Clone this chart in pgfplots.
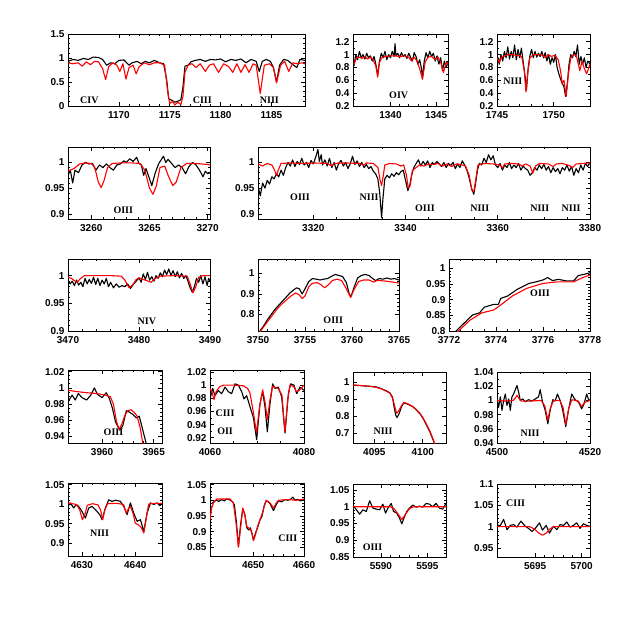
\documentclass[border=0pt]{standalone}
\usepackage{fontspec}
\setmainfont{Liberation Serif}
\newfontfamily\sfnum{Liberation Sans}
\usepackage{pgfplots}
\pgfplotsset{compat=1.18}
\pgfplotsset{
  pan/.style={scale only axis, anchor=north west, clip=true,
    axis line style={line width=0.9pt},
    tick align=inside,
    major tick length=4pt, minor tick length=2pt,
    every tick/.append style={line width=0.6pt, black},
    tick label style={font=\fontsize{10}{12}\selectfont\sfnum\bfseries},
    xticklabel style={yshift=-2pt},
    /pgf/number format/1000 sep={},
    /pgf/number format/assume math mode=true,
    scaled ticks=false},
}
\tikzset{
  obs/.style={black, line width=1.1pt, line join=round},
  mod/.style={red, line width=1.1pt, line join=round},
  lbl/.style={font=\fontsize{10}{12}\selectfont\bfseries, inner sep=0pt},
}
\begin{document}
\begin{tikzpicture}
\path[use as bounding box] (0pt,0pt) rectangle (623pt,-623pt);

% ---------- row 1 ----------
\begin{axis}[pan, at={(68pt,-34pt)}, width=237pt, height=72pt,
  xmin=1165, xmax=1188.3, ymin=0, ymax=1.5,
  xtick={1170,1175,1180,1185}, ytick={0,0.5,1,1.5},
  minor x tick num=4, minor y tick num=4]
\addplot[obs] coordinates {(1165.0,0.93)(1165.5,0.97)(1166.0,0.95)(1166.5,0.99)(1167.0,0.97)(1167.5,1.02)(1168.0,1.01)(1168.4,0.97)(1168.8,0.85)(1169.2,0.90)(1169.6,0.88)(1170.0,0.95)(1170.5,0.96)(1171.0,0.85)(1171.3,0.90)(1171.8,0.93)(1172.2,0.88)(1172.6,0.93)(1173.0,0.90)(1173.5,0.95)(1174.0,0.90)(1174.4,0.88)(1174.7,0.55)(1174.9,0.15)(1175.2,0.12)(1175.5,0.08)(1175.8,0.10)(1176.1,0.13)(1176.3,0.40)(1176.5,0.83)(1176.8,0.85)(1177.1,0.92)(1177.5,0.95)(1178.0,0.97)(1178.5,0.93)(1179.0,0.97)(1179.5,0.96)(1180.0,0.98)(1180.5,0.92)(1181.0,0.97)(1181.5,0.95)(1182.0,0.98)(1182.5,0.90)(1183.0,0.97)(1183.5,0.93)(1183.8,0.72)(1184.1,0.93)(1184.5,0.97)(1184.9,0.93)(1185.2,0.80)(1185.5,0.50)(1185.8,0.85)(1186.2,0.97)(1186.6,0.95)(1187.0,0.88)(1187.5,0.80)(1187.8,0.97)(1188.3,0.95)};
\addplot[mod] coordinates {(1165.0,0.90)(1165.5,0.88)(1166.0,0.90)(1166.4,0.83)(1166.8,0.92)(1167.2,0.86)(1167.6,0.93)(1168.0,0.92)(1168.4,0.78)(1168.7,0.55)(1169.0,0.82)(1169.4,0.90)(1169.8,0.85)(1170.1,0.72)(1170.4,0.88)(1170.7,0.56)(1171.0,0.80)(1171.4,0.85)(1171.7,0.67)(1172.0,0.82)(1172.5,0.90)(1173.0,0.86)(1173.5,0.90)(1174.0,0.90)(1174.5,0.85)(1174.8,0.30)(1175.0,0.05)(1175.3,0.10)(1175.5,0.02)(1175.8,0.08)(1176.1,0.03)(1176.3,0.20)(1176.5,0.70)(1176.8,0.85)(1177.2,0.88)(1177.6,0.80)(1178.0,0.88)(1178.5,0.72)(1178.9,0.85)(1179.3,0.88)(1179.8,0.70)(1180.3,0.88)(1180.8,0.82)(1181.2,0.70)(1181.6,0.88)(1182.0,0.70)(1182.4,0.86)(1182.8,0.70)(1183.2,0.88)(1183.5,0.85)(1183.9,0.26)(1184.3,0.85)(1184.8,0.88)(1185.2,0.80)(1185.5,0.48)(1185.9,0.85)(1186.3,0.93)(1186.7,0.72)(1187.1,0.90)(1187.5,0.88)(1188.0,0.90)(1188.3,0.88)};
\node[lbl] at (axis cs:1167.1,0.125) {CIV};
\node[lbl] at (axis cs:1178.2,0.125) {CIII};
\node[lbl] at (axis cs:1184.8,0.125) {NIII};
\end{axis}

\begin{axis}[pan, at={(353pt,-34pt)}, width=95pt, height=72pt,
  xmin=1335.9, xmax=1346.3, ymin=0.2, ymax=1.32,
  xtick={1340,1345}, ytick={0.2,0.4,0.6,0.8,1,1.2},
  minor x tick num=4, minor y tick num=1]
\addplot[obs] coordinates {(1336.0,0.82)(1336.2,1.00)(1336.4,0.92)(1336.6,1.05)(1336.8,0.95)(1337.0,1.00)(1337.2,0.93)(1337.4,1.02)(1337.6,0.95)(1337.8,0.98)(1338.0,0.90)(1338.2,0.97)(1338.4,0.85)(1338.6,0.68)(1338.8,0.90)(1339.0,1.02)(1339.2,0.95)(1339.4,1.05)(1339.6,0.92)(1339.8,1.00)(1340.0,0.95)(1340.2,1.05)(1340.4,0.97)(1340.5,1.17)(1340.6,0.98)(1340.8,1.02)(1341.0,0.95)(1341.2,1.03)(1341.4,0.97)(1341.6,1.00)(1341.8,0.94)(1342.0,1.02)(1342.2,0.96)(1342.4,0.90)(1342.6,1.03)(1342.8,0.97)(1343.0,0.85)(1343.2,0.92)(1343.4,0.78)(1343.5,0.62)(1343.7,0.90)(1343.9,1.03)(1344.1,0.95)(1344.3,1.05)(1344.5,0.97)(1344.7,1.02)(1344.9,0.90)(1345.1,0.98)(1345.3,0.85)(1345.5,0.95)(1345.7,0.75)(1345.9,0.90)(1346.1,0.80)(1346.3,0.88)};
\addplot[mod] coordinates {(1336.0,0.85)(1336.3,0.95)(1336.6,0.96)(1336.9,0.94)(1337.2,0.97)(1337.5,0.93)(1337.8,0.96)(1338.1,0.92)(1338.4,0.82)(1338.6,0.65)(1338.8,0.88)(1339.1,0.96)(1339.5,0.97)(1340.0,0.98)(1340.5,0.98)(1341.0,0.97)(1341.5,0.98)(1342.0,0.96)(1342.3,0.90)(1342.6,0.96)(1342.9,0.90)(1343.2,0.78)(1343.5,0.62)(1343.8,0.88)(1344.1,0.96)(1344.5,0.97)(1344.9,0.92)(1345.2,0.96)(1345.5,0.88)(1345.8,0.72)(1346.1,0.88)(1346.3,0.85)};
\node[lbl] at (axis cs:1340.9,0.37) {OIV};
\end{axis}

\begin{axis}[pan, at={(497pt,-34pt)}, width=93pt, height=72pt,
  xmin=1745, xmax=1753.2, ymin=0.2, ymax=1.32,
  xtick={1745,1750}, ytick={0.2,0.4,0.6,0.8,1,1.2},
  minor x tick num=4, minor y tick num=1]
\addplot[obs] coordinates {(1745.0,0.82)(1745.1,0.95)(1745.2,0.85)(1745.35,1.00)(1745.5,0.90)(1745.65,1.05)(1745.8,0.95)(1745.95,1.12)(1746.1,0.93)(1746.25,1.05)(1746.4,0.95)(1746.55,1.15)(1746.7,0.92)(1746.85,1.08)(1747.0,0.95)(1747.15,1.10)(1747.3,0.90)(1747.45,0.70)(1747.6,0.45)(1747.75,0.80)(1747.9,0.98)(1748.05,1.08)(1748.2,0.95)(1748.35,1.05)(1748.5,0.96)(1748.65,1.02)(1748.8,0.97)(1748.95,1.05)(1749.1,0.95)(1749.25,1.03)(1749.4,0.90)(1749.55,1.00)(1749.7,0.85)(1749.85,0.95)(1750.0,0.88)(1750.15,1.00)(1750.3,0.80)(1750.45,0.70)(1750.6,0.62)(1750.75,0.55)(1750.9,0.50)(1751.05,0.35)(1751.2,0.55)(1751.35,0.85)(1751.5,1.00)(1751.65,0.95)(1751.8,1.05)(1751.95,0.97)(1752.1,1.15)(1752.25,0.85)(1752.4,0.97)(1752.55,0.85)(1752.7,0.95)(1752.85,0.80)(1753.0,0.90)(1753.2,0.85)};
\addplot[mod] coordinates {(1745.0,0.95)(1745.2,0.88)(1745.4,0.96)(1745.7,0.98)(1746.0,1.00)(1746.4,1.00)(1746.8,0.98)(1747.0,0.99)(1747.2,0.95)(1747.4,0.75)(1747.55,0.42)(1747.7,0.70)(1747.9,0.95)(1748.2,1.00)(1748.6,1.00)(1749.0,0.99)(1749.3,0.95)(1749.5,1.00)(1749.8,0.97)(1750.1,0.99)(1750.4,0.92)(1750.6,0.75)(1750.75,0.55)(1750.9,0.60)(1751.1,0.35)(1751.3,0.70)(1751.5,0.95)(1751.8,1.00)(1752.0,0.98)(1752.3,0.75)(1752.5,0.90)(1752.7,0.78)(1752.9,0.70)(1753.2,0.85)};
\node[lbl] at (axis cs:1746.4,0.58) {NIII};
\end{axis}

% ---------- row 2 ----------
\begin{axis}[pan, at={(68pt,-147pt)}, width=142pt, height=72pt,
  xmin=3258, xmax=3270.2, ymin=0.89, ymax=1.03,
  xtick={3260,3265,3270}, ytick={0.9,0.95,1},
  minor x tick num=4, minor y tick num=4]
\addplot[obs] coordinates {(3258.0,0.975)(3258.2,0.985)(3258.4,0.960)(3258.6,0.985)(3258.9,0.980)(3259.2,0.995)(3259.5,1.000)(3259.8,0.997)(3260.1,0.998)(3260.4,0.985)(3260.7,0.995)(3261.0,0.990)(3261.3,0.997)(3261.6,0.990)(3261.9,0.985)(3262.2,0.995)(3262.5,0.997)(3262.8,1.003)(3263.0,1.000)(3263.3,1.007)(3263.6,1.002)(3263.9,1.010)(3264.1,0.998)(3264.3,0.995)(3264.5,0.975)(3264.7,0.988)(3264.9,0.975)(3265.2,0.955)(3265.5,0.980)(3265.8,0.998)(3266.0,1.005)(3266.2,1.012)(3266.4,1.000)(3266.6,1.006)(3266.9,0.998)(3267.2,0.990)(3267.5,0.995)(3267.8,0.990)(3268.1,0.978)(3268.4,0.992)(3268.7,1.000)(3269.0,0.995)(3269.3,0.985)(3269.6,0.972)(3269.8,0.983)(3270.0,0.978)(3270.2,0.980)};
\addplot[mod] coordinates {(3258.0,0.983)(3258.5,0.988)(3259.0,0.997)(3259.5,0.999)(3260.0,0.998)(3260.3,0.990)(3260.6,0.962)(3260.85,0.951)(3261.1,0.965)(3261.4,0.990)(3261.8,0.998)(3262.5,0.999)(3263.5,0.999)(3264.2,0.998)(3264.6,0.985)(3265.0,0.950)(3265.3,0.938)(3265.6,0.955)(3265.9,0.990)(3266.3,0.993)(3266.6,0.975)(3267.0,0.955)(3267.3,0.962)(3267.7,0.990)(3268.2,0.998)(3269.0,0.998)(3270.0,0.996)(3270.2,0.995)};
\node[lbl] at (axis cs:3262.75,0.907) {OIII};
\end{axis}

\begin{axis}[pan, at={(258pt,-147pt)}, width=332pt, height=72pt,
  xmin=3308, xmax=3380, ymin=0.89, ymax=1.03,
  xtick={3320,3340,3360,3380}, ytick={0.9,0.95,1},
  minor x tick num=3, minor y tick num=4]
\addplot[obs] coordinates {(3308.0,0.955)(3308.5,0.935)(3309.0,0.960)(3309.5,0.950)(3310.0,0.965)(3310.5,0.958)(3311.0,0.972)(3311.5,0.968)(3312.0,0.978)(3312.5,0.972)(3313.0,0.985)(3313.5,0.975)(3314.0,0.990)(3314.5,1.000)(3315.0,0.993)(3315.5,1.005)(3316.0,0.992)(3316.5,1.002)(3317.0,0.996)(3317.5,1.008)(3318.0,0.995)(3318.5,1.000)(3319.0,0.990)(3319.5,1.004)(3320.0,0.997)(3320.5,1.010)(3321.0,1.025)(3321.3,1.002)(3321.7,1.015)(3322.0,0.995)(3322.5,1.005)(3323.0,0.993)(3323.5,1.008)(3324.0,0.990)(3324.5,1.000)(3325.0,0.985)(3325.5,0.998)(3326.0,1.004)(3326.5,0.993)(3327.0,1.000)(3327.5,0.988)(3328.0,0.997)(3328.5,1.012)(3329.0,0.996)(3329.5,1.003)(3330.0,0.992)(3330.5,1.000)(3331.0,0.990)(3331.5,0.996)(3332.0,0.988)(3332.5,0.992)(3333.0,0.983)(3333.5,0.978)(3334.0,0.968)(3334.4,0.940)(3334.8,0.893)(3335.1,0.930)(3335.5,0.968)(3336.0,0.975)(3336.5,0.970)(3337.0,0.978)(3337.5,0.973)(3338.0,0.980)(3338.5,0.976)(3339.0,0.982)(3339.5,0.985)(3340.0,0.965)(3340.5,0.945)(3340.9,0.955)(3341.3,0.975)(3341.8,0.990)(3342.3,0.998)(3342.8,1.005)(3343.3,0.993)(3343.8,1.002)(3344.3,0.995)(3344.8,1.003)(3345.3,0.990)(3345.8,1.000)(3346.3,0.996)(3346.8,1.002)(3347.3,0.997)(3347.8,0.992)(3348.3,1.000)(3348.8,0.990)(3349.3,0.998)(3349.8,0.994)(3350.3,1.000)(3350.8,0.988)(3351.3,0.997)(3351.8,0.990)(3352.3,1.003)(3352.8,0.995)(3353.3,0.985)(3353.8,0.970)(3354.3,0.950)(3354.8,0.938)(3355.2,0.960)(3355.6,0.985)(3356.0,0.998)(3356.5,0.995)(3357.0,1.008)(3357.5,1.000)(3358.0,1.015)(3358.5,1.005)(3359.0,1.013)(3359.5,0.995)(3360.0,0.990)(3360.5,0.998)(3361.0,0.985)(3361.5,0.995)(3362.0,0.990)(3362.5,1.000)(3363.0,0.988)(3363.5,0.995)(3364.0,0.990)(3364.5,0.998)(3365.0,0.985)(3365.5,0.993)(3366.0,0.988)(3366.5,0.985)(3367.0,0.975)(3367.5,0.980)(3368.0,0.990)(3368.5,0.985)(3369.0,0.995)(3369.5,0.988)(3370.0,0.996)(3370.5,0.985)(3371.0,0.992)(3371.5,0.980)(3372.0,0.990)(3372.5,0.982)(3373.0,0.988)(3373.5,0.978)(3374.0,0.990)(3374.5,0.985)(3375.0,0.995)(3375.5,0.983)(3376.0,0.992)(3376.5,0.975)(3377.0,0.988)(3377.5,0.980)(3378.0,0.995)(3378.5,0.985)(3379.0,0.998)(3379.5,0.992)(3380.0,1.000)};
\addplot[mod] coordinates {(3308.0,0.997)(3309.0,0.993)(3310.0,0.998)(3311.0,0.995)(3311.6,0.985)(3312.0,0.975)(3312.4,0.985)(3313.0,0.998)(3315.0,0.999)(3318.0,0.998)(3320.0,0.999)(3323.0,0.998)(3324.0,0.993)(3324.5,0.998)(3327.0,0.999)(3330.0,0.998)(3331.0,0.995)(3331.5,0.999)(3333.0,0.998)(3334.0,0.990)(3334.5,0.965)(3334.8,0.955)(3335.1,0.970)(3335.5,0.995)(3336.5,0.998)(3338.0,0.997)(3339.0,0.993)(3339.6,0.995)(3340.2,0.975)(3340.6,0.950)(3341.0,0.955)(3341.5,0.985)(3342.3,0.990)(3343.0,0.995)(3344.0,0.993)(3345.0,0.997)(3346.0,0.996)(3347.0,0.998)(3348.0,0.993)(3349.0,0.997)(3350.0,0.992)(3351.0,0.997)(3352.0,0.996)(3353.0,0.993)(3353.8,0.975)(3354.4,0.945)(3354.8,0.943)(3355.2,0.965)(3355.7,0.995)(3357.0,0.998)(3359.0,0.997)(3360.5,0.995)(3361.0,0.989)(3361.5,0.997)(3363.0,0.998)(3364.5,0.997)(3365.3,0.993)(3366.0,0.997)(3367.0,0.993)(3367.6,0.979)(3368.2,0.993)(3369.0,0.998)(3371.0,0.997)(3372.0,0.992)(3372.7,0.997)(3374.0,0.998)(3375.5,0.994)(3376.2,0.990)(3377.0,0.997)(3378.5,0.998)(3380.0,0.999)};
\node[lbl] at (axis cs:3317.1,0.932) {OIII};
\node[lbl] at (axis cs:3332.1,0.932) {NIII};
\node[lbl] at (axis cs:3344.2,0.911) {OIII};
\node[lbl] at (axis cs:3356.1,0.911) {NIII};
\node[lbl] at (axis cs:3369.1,0.911) {NIII};
\node[lbl] at (axis cs:3375.9,0.911) {NIII};
\end{axis}

% ---------- row 3 ----------
\begin{axis}[pan, at={(68pt,-259pt)}, width=142pt, height=72pt,
  xmin=3470, xmax=3490, ymin=0.9, ymax=1.03,
  xtick={3470,3480,3490}, ytick={0.9,0.95,1},
  minor x tick num=4, minor y tick num=4]
\addplot[obs] coordinates {(3470.0,0.993)(3470.3,0.985)(3470.6,0.990)(3470.9,0.982)(3471.2,0.992)(3471.5,0.983)(3471.8,0.988)(3472.1,0.980)(3472.4,0.995)(3472.7,0.985)(3473.0,0.993)(3473.3,0.986)(3473.6,0.997)(3473.9,0.984)(3474.2,0.995)(3474.5,0.982)(3474.8,0.992)(3475.1,0.985)(3475.4,0.995)(3475.7,0.980)(3476.0,0.988)(3476.4,0.978)(3476.8,0.985)(3477.2,0.979)(3477.6,0.982)(3478.0,0.980)(3478.4,0.985)(3478.8,0.977)(3479.2,0.984)(3479.6,0.990)(3480.0,0.996)(3480.3,0.988)(3480.6,1.003)(3480.9,0.993)(3481.2,1.006)(3481.5,0.992)(3481.8,0.998)(3482.1,0.990)(3482.4,1.000)(3482.7,0.995)(3483.0,1.005)(3483.3,0.998)(3483.6,1.010)(3483.9,1.002)(3484.2,1.012)(3484.5,1.000)(3484.8,1.009)(3485.1,0.998)(3485.4,1.007)(3485.7,0.996)(3486.0,1.004)(3486.3,0.995)(3486.6,1.000)(3486.9,0.990)(3487.2,0.978)(3487.5,0.970)(3487.8,0.980)(3488.1,0.995)(3488.4,0.988)(3488.7,1.000)(3489.0,0.985)(3489.3,0.998)(3489.6,0.982)(3489.8,0.995)(3490.0,0.990)};
\addplot[mod] coordinates {(3470.0,0.997)(3470.5,0.995)(3471.0,0.990)(3471.3,0.988)(3471.7,0.994)(3472.3,1.000)(3474.0,1.000)(3476.0,1.000)(3477.5,0.999)(3478.0,0.992)(3478.6,0.978)(3479.1,0.983)(3479.6,0.993)(3480.0,0.996)(3480.6,0.993)(3481.3,0.990)(3481.7,0.988)(3482.3,0.995)(3483.0,0.999)(3485.0,1.000)(3486.8,0.999)(3487.2,0.985)(3487.6,0.969)(3488.0,0.980)(3488.4,0.997)(3489.0,1.000)(3490.0,1.000)};
\node[lbl] at (axis cs:3481.1,0.917) {NIV};
\end{axis}

\begin{axis}[pan, at={(258pt,-259pt)}, width=141pt, height=72pt,
  xmin=3750, xmax=3765, ymin=0.72, ymax=1.07,
  xtick={3750,3755,3760,3765}, ytick={0.8,0.9,1},
  minor x tick num=4, minor y tick num=4]
\addplot[obs] coordinates {(3750.2,0.72)(3750.6,0.745)(3751.0,0.775)(3751.4,0.80)(3751.8,0.825)(3752.2,0.845)(3752.6,0.865)(3753.0,0.885)(3753.4,0.905)(3753.8,0.92)(3754.1,0.93)(3754.4,0.925)(3754.7,0.90)(3755.0,0.925)(3755.4,0.96)(3755.8,0.975)(3756.2,0.972)(3756.6,0.968)(3757.0,0.972)(3757.4,0.975)(3757.8,0.985)(3758.2,0.995)(3758.6,0.99)(3759.0,0.985)(3759.4,0.955)(3759.7,0.90)(3759.9,0.888)(3760.2,0.93)(3760.6,0.978)(3761.0,0.99)(3761.4,0.995)(3761.8,0.99)(3762.2,0.975)(3762.5,0.965)(3762.9,0.975)(3763.3,0.972)(3763.7,0.978)(3764.1,0.972)(3764.5,0.975)(3765.0,0.968)};
\addplot[mod] coordinates {(3750.2,0.715)(3750.6,0.74)(3751.0,0.765)(3751.5,0.795)(3752.0,0.825)(3752.5,0.85)(3753.0,0.87)(3753.5,0.89)(3754.0,0.905)(3754.4,0.895)(3754.7,0.878)(3755.0,0.89)(3755.4,0.935)(3755.8,0.952)(3756.3,0.955)(3756.7,0.945)(3757.1,0.930)(3757.5,0.945)(3757.9,0.965)(3758.4,0.972)(3758.9,0.965)(3759.4,0.925)(3759.85,0.883)(3760.2,0.92)(3760.7,0.960)(3761.2,0.968)(3761.8,0.968)(3762.3,0.958)(3762.7,0.966)(3763.5,0.963)(3764.3,0.958)(3765.0,0.953)};
\node[lbl] at (axis cs:3758.0,0.77) {OIII};
\end{axis}

\begin{axis}[pan, at={(449pt,-259pt)}, width=141pt, height=72pt,
  xmin=3772, xmax=3778, ymin=0.8, ymax=1.03,
  xtick={3772,3774,3776,3778}, ytick={0.8,0.85,0.9,0.95,1},
  minor x tick num=3, minor y tick num=4]
\addplot[obs] coordinates {(3772.2,0.790)(3772.3,0.800)(3772.6,0.822)(3773.0,0.851)(3773.3,0.858)(3773.5,0.876)(3773.9,0.885)(3774.1,0.885)(3774.2,0.904)(3774.5,0.912)(3774.9,0.933)(3775.4,0.952)(3775.7,0.957)(3776.0,0.963)(3776.2,0.971)(3776.4,0.961)(3776.65,0.965)(3777.0,0.960)(3777.3,0.960)(3777.5,0.977)(3777.8,0.982)(3778.0,0.986)};
\addplot[mod] coordinates {(3772.3,0.790)(3772.4,0.800)(3772.9,0.835)(3773.4,0.858)(3773.9,0.867)(3774.2,0.883)(3774.7,0.912)(3775.3,0.936)(3776.0,0.952)(3776.6,0.957)(3777.3,0.957)(3777.7,0.971)(3778.0,0.979)};
\node[lbl] at (axis cs:3775.87,0.92) {OIII};
\end{axis}

% ---------- row 4 ----------
\begin{axis}[pan, at={(68pt,-370pt)}, width=94pt, height=73pt,
  xmin=3956.7, xmax=3965.8, ymin=0.932, ymax=1.022,
  xtick={3960,3965}, ytick={0.94,0.96,0.98,1,1.02},
  minor x tick num=4, minor y tick num=3]
\addplot[obs] coordinates {(3956.7,0.983)(3957.1,0.991)(3957.4,0.985)(3957.7,0.993)(3958.05,0.988)(3958.5,0.985)(3958.9,0.991)(3959.25,1.000)(3959.55,0.992)(3960.0,0.988)(3960.4,0.994)(3960.7,0.987)(3961.0,0.975)(3961.3,0.958)(3961.7,0.948)(3962.0,0.953)(3962.35,0.972)(3962.65,0.970)(3963.0,0.967)(3963.3,0.963)(3963.6,0.965)(3963.8,0.955)(3964.1,0.940)(3964.3,0.930)};
\addplot[mod] coordinates {(3956.7,0.997)(3957.5,0.9955)(3958.5,0.994)(3959.5,0.993)(3960.3,0.991)(3960.8,0.989)(3961.1,0.980)(3961.4,0.958)(3961.65,0.949)(3961.9,0.955)(3962.2,0.966)(3962.5,0.972)(3962.8,0.973)(3963.1,0.970)(3963.4,0.965)(3963.7,0.950)(3963.9,0.935)(3964.0,0.928)};
\node[lbl] at (axis cs:3961.1,0.945) {OIII};
\end{axis}

\begin{axis}[pan, at={(210pt,-370pt)}, width=94pt, height=73pt,
  xmin=4060, xmax=4080, ymin=0.912, ymax=1.023,
  xtick={4060,4080}, ytick={0.92,0.94,0.96,0.98,1,1.02},
  minor x tick num=3, minor y tick num=1]
\addplot[obs] coordinates {(4060.0,0.979)(4060.57,0.995)(4061.06,0.984)(4061.77,0.992)(4062.48,0.987)(4063.19,0.997)(4063.9,0.990)(4064.61,0.987)(4065.32,1.002)(4066.03,1.000)(4066.74,0.990)(4067.23,0.979)(4067.8,0.984)(4068.51,0.967)(4069.22,0.951)(4069.93,0.917)(4070.64,0.972)(4071.2,0.990)(4071.7,0.967)(4072.2,0.929)(4072.77,0.972)(4073.33,1.002)(4073.83,0.995)(4074.54,0.997)(4075.25,0.982)(4075.96,0.927)(4076.67,0.987)(4077.16,1.002)(4077.87,1.000)(4078.44,0.987)(4079.15,0.997)(4080.0,0.992)};
\addplot[mod] coordinates {(4060.0,0.995)(4060.4,0.990)(4060.85,0.978)(4061.3,0.990)(4062.1,0.998)(4063.0,1.000)(4065.0,1.000)(4067.1,0.999)(4068.0,0.995)(4068.5,0.988)(4069.2,0.960)(4069.9,0.927)(4070.5,0.965)(4071.2,0.993)(4071.7,0.975)(4072.2,0.947)(4072.7,0.975)(4073.3,0.998)(4074.5,0.995)(4075.3,0.985)(4075.95,0.929)(4076.5,0.975)(4077.0,1.000)(4077.8,0.998)(4078.4,0.990)(4079.0,0.992)(4080.0,1.000)};
\node[lbl] at (axis cs:4063.2,0.957) {CIII};
\node[lbl] at (axis cs:4063.2,0.930) {OII};
\end{axis}

\begin{axis}[pan, at={(353pt,-372pt)}, width=93pt, height=71pt,
  xmin=4092.8, xmax=4102.4, ymin=0.645, ymax=1.058,
  xtick={4095,4100}, ytick={0.7,0.8,0.9,1},
  minor x tick num=4, minor y tick num=1]
\addplot[obs] coordinates {(4092.8,0.981)(4093.49,0.979)(4094.52,0.975)(4095.21,0.971)(4095.73,0.961)(4096.25,0.948)(4096.59,0.938)(4096.87,0.913)(4097.04,0.855)(4097.21,0.807)(4097.35,0.793)(4097.56,0.816)(4097.8,0.855)(4098.04,0.878)(4098.32,0.874)(4098.66,0.865)(4099.01,0.855)(4099.35,0.836)(4099.7,0.816)(4100.04,0.787)(4100.39,0.749)(4100.73,0.710)(4101.08,0.661)(4101.3,0.632)};
\addplot[mod] coordinates {(4092.8,0.983)(4093.5,0.980)(4094.5,0.975)(4095.2,0.969)(4095.7,0.960)(4096.25,0.946)(4096.6,0.935)(4096.9,0.905)(4097.1,0.860)(4097.3,0.818)(4097.5,0.830)(4097.8,0.862)(4098.05,0.880)(4098.35,0.876)(4098.7,0.866)(4099.0,0.856)(4099.35,0.838)(4099.7,0.818)(4100.05,0.790)(4100.4,0.752)(4100.75,0.713)(4101.1,0.662)(4101.3,0.632)};
\node[lbl] at (axis cs:4095.9,0.716) {NIII};
\end{axis}

\begin{axis}[pan, at={(497pt,-372pt)}, width=93pt, height=71pt,
  xmin=4500, xmax=4520, ymin=0.94, ymax=1.04,
  xtick={4500,4520}, ytick={0.94,0.96,0.98,1,1.02,1.04},
  minor x tick num=3, minor y tick num=1]
\addplot[obs] coordinates {(4500.0,1.001)(4500.36,0.991)(4500.71,1.005)(4501.07,0.986)(4501.43,1.000)(4501.79,1.009)(4502.14,0.993)(4502.5,1.002)(4502.86,0.986)(4503.21,1.005)(4503.57,1.009)(4503.93,1.015)(4504.29,1.021)(4504.64,1.012)(4505.0,1.000)(4505.57,1.002)(4506.07,0.998)(4506.79,1.001)(4507.5,0.999)(4508.21,1.002)(4508.93,1.005)(4509.29,1.015)(4509.79,0.998)(4510.36,0.986)(4510.93,0.967)(4511.43,0.986)(4512.0,1.001)(4512.5,0.999)(4513.0,1.009)(4513.57,1.000)(4514.07,0.988)(4514.79,0.963)(4515.36,0.986)(4516.07,1.009)(4516.79,1.001)(4517.5,0.998)(4518.21,0.988)(4518.71,0.995)(4519.29,1.009)(4519.64,1.002)(4520.0,1.000)};
\addplot[mod] coordinates {(4500,1.000)(4502,0.999)(4503.5,1.000)(4504.0,1.004)(4504.3,1.007)(4504.7,1.003)(4505.2,0.999)(4507,0.999)(4509.5,1.000)(4510.3,0.992)(4510.9,0.972)(4511.5,0.990)(4512.2,1.000)(4513.5,1.000)(4514.2,0.990)(4514.8,0.966)(4515.4,0.988)(4516.1,1.001)(4517.5,0.999)(4518.2,0.991)(4518.8,0.997)(4520.0,1.000)};
\node[lbl] at (axis cs:4507.1,0.954) {NIII};
\end{axis}

% ---------- row 5 ----------
\begin{axis}[pan, at={(68pt,-483pt)}, width=94pt, height=73pt,
  xmin=4627.4, xmax=4645, ymin=0.867, ymax=1.054,
  xtick={4630,4640}, ytick={0.9,0.95,1,1.05},
  minor x tick num=4, minor y tick num=4]
\addplot[obs] coordinates {(4627.4,0.994)(4627.84,1.003)(4628.46,0.990)(4628.96,0.999)(4629.4,0.994)(4630.03,0.981)(4630.65,0.964)(4631.28,0.990)(4631.9,0.994)(4632.84,0.981)(4633.34,0.973)(4633.78,0.960)(4634.4,0.990)(4635.03,1.011)(4635.65,1.007)(4636.28,1.010)(4637.21,1.007)(4637.84,0.994)(4638.46,0.973)(4639.09,1.003)(4639.71,0.977)(4640.34,0.956)(4640.96,0.960)(4641.59,0.930)(4642.21,0.977)(4642.84,1.003)(4643.46,0.999)(4644.09,1.003)(4644.59,0.996)(4645.0,1.001)};
\addplot[mod] coordinates {(4627.4,1.003)(4629.0,0.999)(4629.6,0.985)(4630.1,0.960)(4630.6,0.975)(4631.0,0.997)(4632.0,1.001)(4633.0,0.998)(4633.5,0.985)(4633.9,0.960)(4634.3,0.985)(4634.8,1.001)(4636.5,1.002)(4637.8,0.999)(4638.3,0.977)(4638.8,0.990)(4639.1,0.994)(4639.6,0.975)(4640.0,0.951)(4640.6,0.947)(4641.1,0.940)(4641.6,0.926)(4642.0,0.960)(4642.5,1.000)(4643.5,1.002)(4645.0,1.002)};
\node[lbl] at (axis cs:4633.3,0.926) {NIII};
\end{axis}

\begin{axis}[pan, at={(210pt,-483pt)}, width=94pt, height=73pt,
  xmin=4641.5, xmax=4660, ymin=0.822, ymax=1.055,
  xtick={4650,4660}, ytick={0.85,0.9,0.95,1,1.05},
  minor x tick num=4, minor y tick num=4]
\addplot[obs] coordinates {(4641.9,0.990)(4642.4,0.997)(4642.8,1.001)(4643.2,0.996)(4643.8,1.002)(4644.3,0.998)(4644.8,1.004)(4645.4,1.001)(4645.9,0.996)(4646.3,0.985)(4646.7,0.930)(4647.1,0.852)(4647.5,0.920)(4647.95,0.972)(4648.35,0.955)(4648.75,0.912)(4649.1,0.905)(4649.45,0.912)(4649.75,0.895)(4650.05,0.873)(4650.45,0.895)(4650.85,0.912)(4651.3,0.935)(4651.75,0.950)(4652.2,0.985)(4652.6,0.998)(4653.2,0.992)(4653.6,0.980)(4654.0,0.967)(4654.5,0.985)(4655.0,0.998)(4655.6,0.995)(4656.2,1.002)(4656.8,1.000)(4657.4,1.004)(4657.8,1.010)(4658.2,1.000)(4658.7,1.003)(4659.3,0.998)(4660.0,1.002)};
\addplot[mod] coordinates {(4641.5,0.938)(4641.83,0.975)(4642.16,0.991)(4642.82,1.004)(4645.45,1.004)(4646.1,0.991)(4646.63,0.927)(4647.09,0.850)(4647.55,0.916)(4647.95,0.975)(4648.34,0.954)(4648.74,0.916)(4649.39,0.908)(4649.72,0.897)(4650.05,0.871)(4650.45,0.890)(4650.84,0.916)(4651.7,0.954)(4652.55,1.000)(4653.34,0.991)(4654.0,0.975)(4654.53,0.991)(4654.99,1.000)(4656.63,1.002)(4658.6,1.000)(4660.0,1.004)};
\node[lbl] at (axis cs:4656.8,0.879) {CIII};
\end{axis}

\begin{axis}[pan, at={(353pt,-484pt)}, width=93pt, height=73pt,
  xmin=5587, xmax=5597, ymin=0.85, ymax=1.068,
  xtick={5590,5595}, ytick={0.85,0.9,0.95,1,1.05},
  minor x tick num=4, minor y tick num=4]
\addplot[obs] coordinates {(5587.0,1.005)(5587.36,0.991)(5587.71,0.978)(5588.07,0.991)(5588.43,0.986)(5588.79,1.018)(5589.14,0.996)(5589.5,0.993)(5589.86,0.991)(5590.21,1.008)(5590.5,0.981)(5590.75,0.996)(5591.11,1.010)(5591.36,0.986)(5591.71,0.981)(5592.0,0.966)(5592.25,0.949)(5592.54,0.971)(5592.79,0.986)(5593.07,0.996)(5593.43,1.005)(5593.79,0.999)(5594.14,1.002)(5594.5,0.999)(5594.86,1.010)(5595.21,1.008)(5595.57,1.000)(5595.93,1.010)(5596.29,0.996)(5596.64,0.993)(5597.0,1.010)};
\addplot[mod] coordinates {(5587.0,1.000)(5591.0,1.000)(5591.4,0.995)(5591.8,0.980)(5592.25,0.962)(5592.7,0.980)(5593.1,0.995)(5593.5,1.000)(5597.0,1.000)};
\node[lbl] at (axis cs:5589.1,0.88) {OIII};
\end{axis}

\begin{axis}[pan, at={(497pt,-484pt)}, width=93pt, height=73pt,
  xmin=5690.9, xmax=5700.9, ymin=0.929, ymax=1.1,
  xtick={5695,5700}, ytick={0.95,1,1.05,1.1},
  minor x tick num=4, minor y tick num=4]
\addplot[obs] coordinates {(5690.9,1.003)(5691.26,1.003)(5691.61,1.017)(5691.97,0.993)(5692.33,1.003)(5692.69,1.005)(5693.04,0.999)(5693.47,1.013)(5693.94,1.001)(5694.29,0.996)(5694.65,0.989)(5695.01,0.996)(5695.47,1.009)(5695.79,0.992)(5696.19,1.003)(5696.54,0.985)(5696.97,1.001)(5697.33,0.993)(5697.69,1.005)(5698.04,1.003)(5698.4,1.011)(5698.76,0.999)(5699.11,1.003)(5699.47,1.009)(5699.83,0.996)(5700.19,1.007)(5700.54,1.003)(5700.9,1.001)};
\addplot[mod] coordinates {(5690.9,1.000)(5694.4,1.000)(5694.9,0.995)(5695.4,0.985)(5695.8,0.980)(5696.2,0.985)(5696.6,0.995)(5697.0,1.000)(5700.9,1.000)};
\node[lbl] at (axis cs:5692.9,1.056) {CIII};
\end{axis}
\end{tikzpicture}
\end{document}
